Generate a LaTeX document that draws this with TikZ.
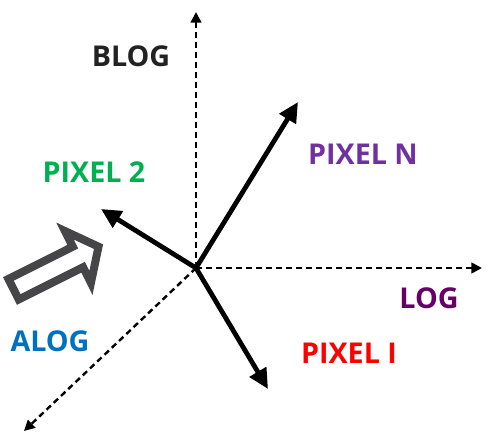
\documentclass[tikz,border=0pt]{standalone}
\usepackage{fontspec}
\setmainfont{Open Sans}
\usepackage[dvipsnames,svgnames,table]{xcolor}
\definecolor{BlogDark}{RGB}{34,34,34}
\definecolor{PixGreen}{RGB}{0,176,80}
\definecolor{PixPurple}{RGB}{112,48,160}
\definecolor{LogPurple}{RGB}{102,0,102}
\definecolor{PixRed}{RGB}{255,0,0}
\definecolor{AlogBlue}{RGB}{0,112,192}
\definecolor{HintGray}{RGB}{70,70,72}
\usepackage{tikz}
\usetikzlibrary{
  positioning,
  arrows.meta
}
\tikzset{
  % Dashed axis
  axis/.style={
    draw=black,
    line width=1.8pt,
    dash pattern=on 4.5pt off 3pt,
    -{Triangle[length=8pt,width=8pt]}
  },
  % Pixel vector
  vec/.style={
    draw=black,
    line width=3.6pt,
    -{Triangle[length=15pt,width=14pt]}
  },
  % Label
  lbl/.style={
    font=\fontsize{21.5}{24}\selectfont\bfseries,
    inner sep=0pt
  }
}
\begin{document}
\begin{tikzpicture}[x=0.75pt,y=-0.75pt]
  \useasboundingbox (0,0) rectangle (498,448);
  % Points
  \coordinate (o) at (196,268);
  \coordinate (blog) at (196,12);
  \coordinate (log) at (482,268);
  \coordinate (alog) at (24,431);
  \coordinate (pn) at (298,102);
  \coordinate (p2) at (101,209);
  \coordinate (p1) at (268,389);
  % Axes
  \draw[axis] (o) -- (blog);
  \draw[axis] (o) -- (log);
  \draw[axis] (o) -- (alog);
  % Vectors
  \draw[vec] (o) -- (pn);
  \draw[vec] (o) -- (p2);
  \draw[vec] (o) -- (p1);
  % Labels
  \node[lbl, text=BlogDark] (tblog) at (131,56) {BLOG};
  \node[lbl, text=PixGreen] (tp2) at (94,172) {PIXEL 2};
  \node[lbl, text=PixPurple] (tpn) at (363,154) {PIXEL N};
  \node[lbl, text=LogPurple] (tlog) at (429,298) {LOG};
  \node[lbl, text=PixRed] (tp1) at (349,353) {PIXEL I};
  \node[lbl, text=AlogBlue] (talog) at (50,341) {ALOG};
  % Hollow arrow
  \begin{scope}[shift={(10,291)}, rotate=26.6]
    \draw[HintGray, fill=white, line width=6pt, line join=miter]
      (4,-11.5) -- (76,-11.5) -- (76,-29) -- (99,0) -- (76,29)
      -- (76,11.5) -- (4,11.5) -- cycle;
  \end{scope}
\end{tikzpicture}
\end{document}
